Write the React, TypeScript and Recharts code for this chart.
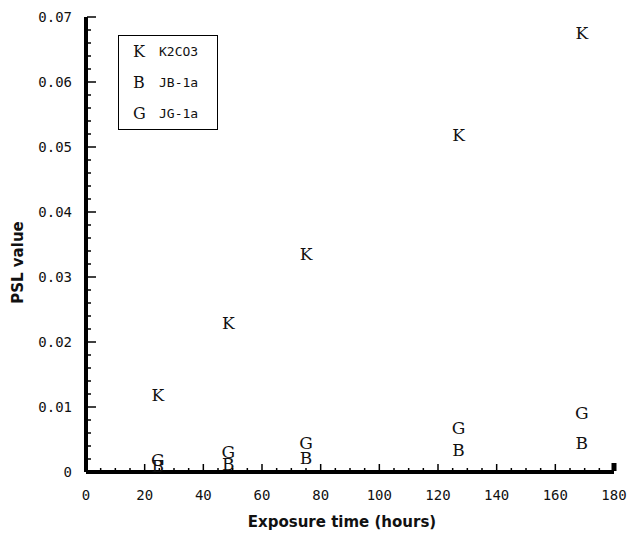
import { ScatterChart, Scatter, XAxis, YAxis, Legend } from 'recharts';

// exposure times (hours) and PSL readings
const hours = [24.5, 48.5, 75, 127, 169];
const k2co3 = [0.0118, 0.0229, 0.0335, 0.0518, 0.0675];
const jb1a = [0.0009, 0.0012, 0.0022, 0.0034, 0.0045];
const jg1a = [0.0018, 0.0031, 0.0045, 0.0068, 0.0091];

const seriesMarks = ['K', 'B', 'G'];
const seriesNames = ['K2CO3', 'JB-1a', 'JG-1a'];
const seriesValues = [k2co3, jb1a, jg1a];

const xMajorTicks = [0, 20, 40, 60, 80, 100, 120, 140, 160, 180];
const yMajorTicks = [0, 0.01, 0.02, 0.03, 0.04, 0.05, 0.06, 0.07];
const xTicks = Array.from({ length: 37 }, (_, i) => i * 5);
const yTicks = Array.from({ length: 36 }, (_, i) => +(i * 0.002).toFixed(3));

const tickFont = '"DejaVu Sans Mono", monospace';
const markFont = '"DejaVu Serif", serif';

const XTick = ({ x, y, payload }: any) => {
  const v = payload.value;
  const major = xMajorTicks.includes(v);
  const end = v === 180;
  return (
    <g>
      <line x1={x} x2={x} y1={y - 1} y2={y - (end ? 9 : major ? 8 : 4)} stroke="#000" strokeWidth={end ? 5 : 1.5} />
      {major && (
        <text x={x} y={y + 28} textAnchor="middle" fontFamily={tickFont} fontSize={14} fill="#111">
          {v}
        </text>
      )}
    </g>
  );
};

const YTick = ({ x, y, payload }: any) => {
  const v = payload.value;
  const major = yMajorTicks.some((t) => Math.abs(t - v) < 1e-6);
  return (
    <g>
      <line x1={x + 1} x2={x + (major ? 10 : 5)} y1={y} y2={y} stroke="#000" strokeWidth={1.5} />
      {major && (
        <text x={x - 14} y={y + 5} textAnchor="end" fontFamily={tickFont} fontSize={14} fill="#111">
          {v === 0 ? '0' : v.toFixed(2)}
        </text>
      )}
    </g>
  );
};

const letterShape = (letter: string) => (props: any) => (
  <text
    x={props.cx}
    y={props.cy}
    textAnchor="middle"
    dominantBaseline="central"
    fontFamily={markFont}
    fontSize={17}
    fill="#111"
  >
    {letter}
  </text>
);

const LegendBox = () => (
  <div
    style={{
      border: '1.5px solid #000',
      width: 100,
      boxSizing: 'border-box',
      background: '#fff',
    }}
  >
    {seriesNames.map((name, i) => (
      <div key={name} style={{ height: 31, display: 'flex', alignItems: 'center' }}>
        <span style={{ fontFamily: markFont, fontSize: 16, width: 40, paddingLeft: 14, boxSizing: 'border-box', color: '#111' }}>
          {seriesMarks[i]}
        </span>
        <span style={{ fontFamily: tickFont, fontSize: 13, color: '#111' }}>{name}</span>
      </div>
    ))}
  </div>
);

export default function App() {
  const series = seriesValues.map((vals) => hours.map((h, i) => ({ x: h, y: vals[i] })));

  return (
    <div style={{ position: 'absolute', left: 0, top: 0, background: '#fff' }}>
      <ScatterChart width={627} height={536} margin={{ top: 17, right: 13, left: 0, bottom: 0 }}>
        <XAxis
          type="number"
          dataKey="x"
          domain={[0, 180]}
          ticks={xTicks}
          interval={0}
          tickSize={0}
          tickMargin={0}
          tickLine={false}
          axisLine={{ stroke: '#000', strokeWidth: 4 }}
          tick={<XTick />}
          height={64}
          label={{
            content: ({ viewBox }: any) => (
              <text
                x={viewBox.x + viewBox.width / 2 - 8}
                y={viewBox.y + 55}
                textAnchor="middle"
                fontFamily='"DejaVu Sans", sans-serif'
                fontWeight="bold"
                fontSize={15}
                fill="#111"
              >
                Exposure time (hours)
              </text>
            ),
          }}
        />
        <YAxis
          type="number"
          dataKey="y"
          domain={[0, 0.07]}
          ticks={yTicks}
          interval={0}
          tickSize={0}
          tickMargin={0}
          tickLine={false}
          axisLine={{ stroke: '#000', strokeWidth: 4 }}
          tick={<YTick />}
          width={86}
          label={{
            content: ({ viewBox }: any) => {
              const cx = viewBox.x + 18;
              const cy = viewBox.y + viewBox.height / 2 + 18;
              return (
                <text
                  x={cx}
                  y={cy}
                  transform={`rotate(-90 ${cx} ${cy})`}
                  textAnchor="middle"
                  dominantBaseline="central"
                  fontFamily='"DejaVu Sans", sans-serif'
                  fontWeight="bold"
                  fontSize={15}
                  fill="#111"
                >
                  PSL value
                </text>
              );
            },
          }}
        />
        <Legend
          layout="horizontal"
          verticalAlign="middle"
          align="center"
          content={<LegendBox />}
          wrapperStyle={{ position: 'absolute', left: 118, top: 35, width: 100 }}
        />
        {series.map((data, i) => (
          <Scatter
            key={seriesNames[i]}
            name={seriesNames[i]}
            data={data}
            shape={letterShape(seriesMarks[i])}
            isAnimationActive={false}
          />
        ))}
      </ScatterChart>
    </div>
  );
}
